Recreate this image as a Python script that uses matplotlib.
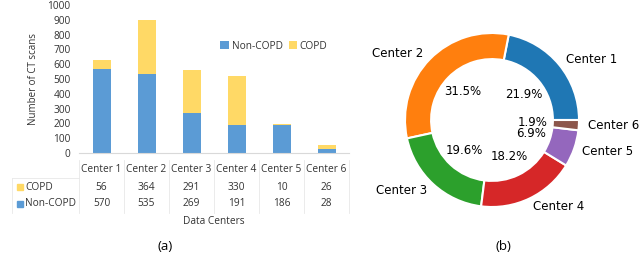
import matplotlib.pyplot as plt
import matplotlib.transforms as mtransforms

# data
centers = ['Center 1', 'Center 2', 'Center 3', 'Center 4', 'Center 5', 'Center 6']
copd = [56, 364, 291, 330, 10, 26]
non_copd = [570, 535, 269, 191, 186, 28]
totals = [a + b for a, b in zip(copd, non_copd)]

blue = '#5B9BD5'
yellow = '#FFD966'
pie_colors = ['#1f77b4', '#ff7f0e', '#2ca02c', '#d62728', '#9467bd', '#8c564b']
tfont = 'Open Sans'
tcol = '#333333'

fig = plt.figure(figsize=(6.4, 2.6), dpi=100)

# (a) stacked bars with data table
ax = fig.add_axes([79 / 640, 1 - 153 / 260, 270 / 640, 148 / 260])
x = list(range(len(centers)))
ax.bar(x, non_copd, width=0.4, color=blue, label='Non-COPD')
ax.bar(x, copd, width=0.4, bottom=non_copd, color=yellow, label='COPD')
ax.set_xlim(-0.5, len(centers) - 0.5)
ax.set_ylim(0, 1000)
ax.set_yticks(range(0, 1001, 100))
ax.set_xticks([])
for s in ['top', 'right', 'left']:
    ax.spines[s].set_visible(False)
ax.spines['bottom'].set_color('#D9D9D9')
ax.tick_params(axis='y', length=0, labelsize=7.3, pad=6, labelcolor=tcol)
for t in ax.get_yticklabels():
    t.set_fontfamily(tfont)
ax.set_ylabel('Number of CT scans', fontsize=7, family=tfont, color=tcol, labelpad=6)
ax.legend(loc='upper left', bbox_to_anchor=(0.49, 0.82), ncol=2, frameon=False,
          prop={'family': tfont, 'size': 7.3}, handlelength=0.8, handleheight=0.8,
          handletextpad=0.3, columnspacing=0.6, labelcolor=tcol)

# table drawn under the axis
tr = mtransforms.blended_transform_factory(ax.transData, fig.transFigure)
row_y = [1 - 170 / 260, 1 - 187 / 260, 1 - 204 / 260]
for i, c in enumerate(centers):
    fig.text(i, row_y[0], c, transform=tr, ha='center', va='center',
             fontsize=7.3, family=tfont, color=tcol)
    fig.text(i, row_y[1], str(copd[i]), transform=tr, ha='center', va='center',
             fontsize=7.3, family=tfont, color=tcol)
    fig.text(i, row_y[2], str(non_copd[i]), transform=tr, ha='center', va='center',
             fontsize=7.3, family=tfont, color=tcol)
lines_tr = fig.transFigure
for k in range(len(centers) + 1):
    fig.add_artist(plt.Line2D([k - 0.5, k - 0.5], [1 - 160 / 260, 1 - 213 / 260],
                              transform=tr, color='#E8E8E8', lw=0.6))
fig.add_artist(plt.Line2D([12 / 640, 79 / 640], [1 - 178 / 260, 1 - 178 / 260],
                          transform=lines_tr, color='#E8E8E8', lw=0.6))
fig.add_artist(plt.Line2D([12 / 640, 12 / 640], [1 - 178 / 260, 1 - 213 / 260],
                          transform=lines_tr, color='#E8E8E8', lw=0.6))
for lbl, col, yy in [('COPD', yellow, row_y[1]), ('Non-COPD', blue, row_y[2])]:
    fig.add_artist(plt.Rectangle((17 / 640, yy - 3 / 260), 6 / 640, 6 / 260,
                                 transform=lines_tr, color=col))
    fig.text(25 / 640, yy, lbl, ha='left', va='center', fontsize=7.3,
             family=tfont, color=tcol)
fig.text(2.5, 1 - 221 / 260, 'Data Centers', transform=tr, ha='center', va='center',
         fontsize=7.3, family=tfont, color=tcol)
fig.text(165 / 640, 1 - 247 / 260, '(a)', ha='center', va='center', fontsize=9.5,
         family=tfont)

# (b) donut chart
r_px = 87
cx, cy = 492, 120
half = r_px * 1.25
ax2 = fig.add_axes([(cx - half) / 640, (260 - cy - half) / 260, 2 * half / 640, 2 * half / 260])
ax2.pie(totals, labels=centers, colors=pie_colors, autopct='%1.1f%%',
        pctdistance=0.47, labeldistance=1.1, startangle=0,
        wedgeprops={'width': 0.3, 'edgecolor': 'white', 'linewidth': 1.5},
        textprops={'fontsize': 8.5})
ax2.set_aspect('equal')
fig.text(503 / 640, 1 - 247 / 260, '(b)', ha='center', va='center', fontsize=9.5,
         family=tfont)

fig.savefig('out.png', dpi=100)
